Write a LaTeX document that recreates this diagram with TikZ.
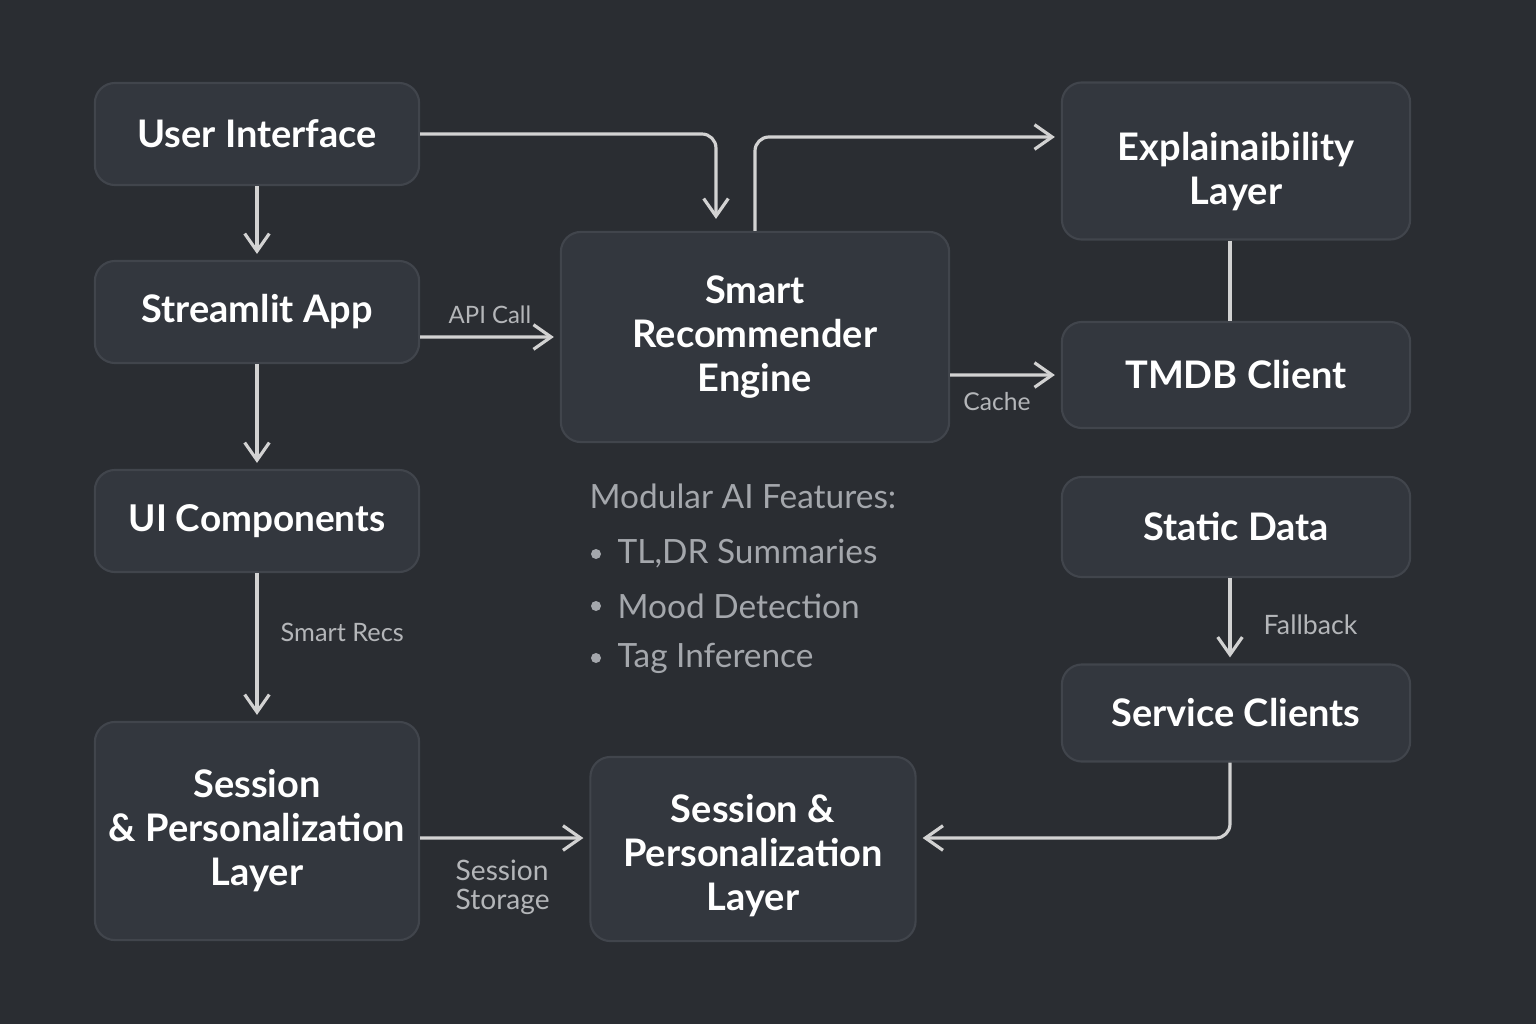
\documentclass[tikz,border=0pt]{standalone}
\usepackage{fontspec}
\setmainfont{Lato}
\usepackage{xcolor}
\usetikzlibrary{arrows.meta}
\usetikzlibrary{positioning}
\usetikzlibrary{calc}

\definecolor{bgcol}{HTML}{2A2D32}
\definecolor{boxcol}{HTML}{33373E}
\definecolor{edgecol}{HTML}{41454C}
\definecolor{linecol}{HTML}{D2D2D2}
\definecolor{labelcol}{HTML}{B4B6B9}
\definecolor{featcol}{HTML}{A4A7AC}

\begin{document}
\begin{tikzpicture}[x=0.01cm,y=-0.01cm,
  box/.style={draw=edgecol,fill=boxcol,rounded corners=0.2cm,line width=0.6pt,
    text=white,font=\fontsize{10.8}{12.5}\selectfont\bfseries,align=center,inner sep=0pt},
  arr/.style={draw=linecol,line width=0.9pt,-{Straight Barb[length=5pt,width=7pt]},
    shorten >=0.06cm,rounded corners=0.14cm},
  lbl/.style={text=labelcol,inner sep=0pt},
  feat/.style={text=featcol,font=\fontsize{9.5}{11}\selectfont,inner sep=0pt,anchor=west}]

\fill[bgcol] (0,0) rectangle (1536,1024);

% left column
\node[box,minimum width=3.24cm,minimum height=1.02cm] (ui) at (257,134) {User Interface};
\node[box,minimum width=3.24cm,minimum height=1.02cm] (stream) at (257,312) {Streamlit App};
\node[box,minimum width=3.24cm,minimum height=1.02cm] (uicomp) at (257,521) {\fontsize{10.5}{12.5}\selectfont UI Components};
\node[box,minimum width=3.24cm,minimum height=2.18cm] (lsess) at (257,831) {Session\\ \& Personalization\\ Layer};

% middle
\node[box,minimum width=3.88cm,minimum height=2.10cm] (engine) at (755,337) {Smart\\ Recommender\\ Engine};
\node[box,minimum width=3.25cm,minimum height=1.84cm] (msess) at (753,849) {\rule{0pt}{12pt}Session \&\\ Personalization\\ Layer};

% right column
\node[box,minimum width=3.48cm,minimum height=1.57cm] (expl) at (1236,161) {\rule{0pt}{14pt}Explainaibility\\ Layer};
\node[box,minimum width=3.48cm,minimum height=1.06cm] (tmdb) at (1236,375) {TMDB Client};
\node[box,minimum width=3.48cm,minimum height=1.00cm] (static) at (1236,527) {Static Data};
\node[box,minimum width=3.48cm,minimum height=0.97cm] (svc) at (1236,713) {Service Clients};

% connectors
\draw[arr] (ui) -- (stream);
\draw[arr] (stream) -- (uicomp);
\draw[arr] (uicomp) -- (lsess);
\draw[arr] (ui.east) -| ([xshift=-0.39cm,yshift=0.06cm]engine.north);
\draw[arr] (engine.north) |- ([yshift=0.24cm]expl.west);
\draw[arr] ([yshift=-0.25cm]stream.east) -- (engine.west);
\draw[arr] ([yshift=-0.38cm]engine.east) -- (tmdb.west);
\draw[draw=linecol,line width=0.9pt] ([xshift=-0.06cm]expl.south) -- ([xshift=-0.06cm]tmdb.north);
\draw[arr] ([xshift=-0.06cm]static.south) -- ([xshift=-0.06cm]svc.north);
\draw[arr] ([yshift=-0.07cm]lsess.east) -- ([yshift=0.11cm]msess.west);
\draw[arr] ([xshift=-0.06cm]svc.south) |- ([yshift=0.11cm]msess.east);

% labels
\node[lbl,font=\fontsize{6.8}{8}\selectfont] (apilbl) at (490,315) {API Call};
\node[lbl,font=\fontsize{7}{8}\selectfont] (cachelbl) at (997,402) {Cache};
\node[lbl,anchor=west,font=\fontsize{7.2}{8}\selectfont] (recslbl) at (280,632) {Smart Recs};
\node[lbl,anchor=west,font=\fontsize{7.6}{8}\selectfont] (fblbl) at (1263,625) {Fallback};
\node[lbl,anchor=west,align=left,font=\fontsize{8}{8.3}\selectfont] (storelbl) at (455,887) {Session\\Storage};

% modular features
\node[feat] (modhead) at (589,496) {Modular AI Features:};
\foreach \ftext [count=\i] in {{TL,DR Summaries},{Mood Detection},{Tag Inference}} {
  \fill[featcol] (596,502+52*\i) circle (0.05cm);
  \node[feat] (feat\i) at (617,502+52*\i) {\ftext};
}

\end{tikzpicture}
\end{document}
